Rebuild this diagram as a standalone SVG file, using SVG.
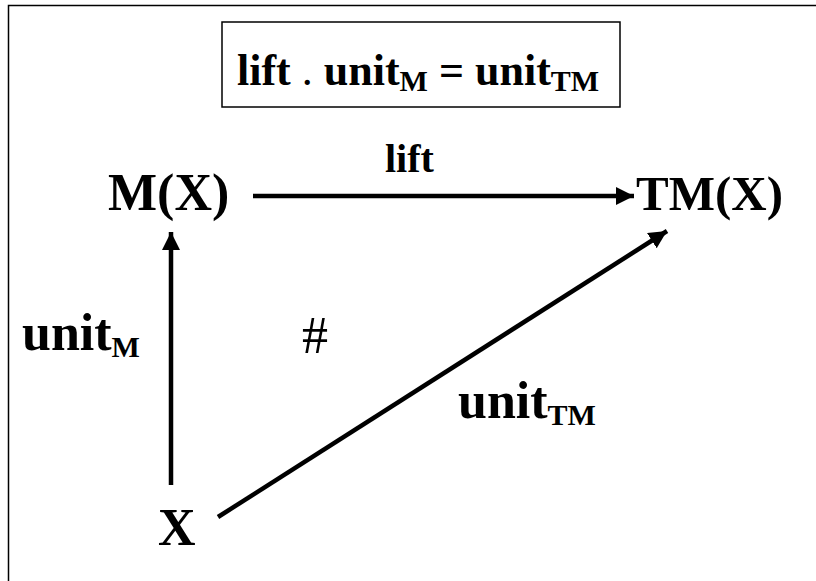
<svg xmlns="http://www.w3.org/2000/svg" width="816" height="581" viewBox="0 0 816 581">
<style>
.t{font-family:'Liberation Serif', 'Times New Roman', Times, serif;font-weight:700;fill:#000}
.big{font-size:52px}
.big2{font-size:49px}
.lbl{font-size:40px}
.hash{font-size:52px;font-weight:400}
.unit{font-size:52px}
.sub{font-size:30px}
.eq{font-size:44px}
.eqs{font-size:30px}
.conn line{stroke:#000;stroke-width:4.5}
</style>
<defs>
<marker id="ah" viewBox="0 0 10 10" refX="10" refY="5" markerWidth="4" markerHeight="4" orient="auto" markerUnits="strokeWidth">
<path d="M0,0 L10,5 L0,10 z" fill="#000"/>
</marker>
</defs>
<rect x="0" y="0" width="816" height="581" fill="#fff"/>
<rect x="8.5" y="5.5" width="830" height="600" fill="none" stroke="#000" stroke-width="1.5"/>
<g id="law">
<rect x="222" y="22" width="398" height="85" fill="#fff" stroke="#000" stroke-width="1.5"/>
<text x="237" y="85" class="t eq">lift <tspan font-weight="normal">.</tspan> unit<tspan class="eqs" dy="6">M</tspan><tspan dy="-6">  = unit</tspan><tspan class="eqs" dy="6">TM</tspan></text>
</g>
<g id="MX"><text x="108" y="210" class="t big">M(X)</text></g>
<g id="TMX"><text x="636" y="210" class="t big2">TM(X)</text></g>
<g id="X"><text x="158" y="545" class="t big">X</text></g>
<g class="conn" id="connectors">
<line x1="253" y1="196" x2="634" y2="196" marker-end="url(#ah)"/>
<line x1="171" y1="485" x2="171" y2="232" marker-end="url(#ah)"/>
<line x1="218" y1="517" x2="667" y2="231" marker-end="url(#ah)"/>
</g>
<g id="labels">
<text x="385" y="172" class="t lbl">lift</text>
<text x="22" y="350" class="t unit">unit<tspan class="sub" dy="7">M</tspan></text>
<text x="302" y="353" class="t hash">#</text>
<text x="458" y="418" class="t unit">unit<tspan class="sub" dy="7">TM</tspan></text>
</g>
</svg>
